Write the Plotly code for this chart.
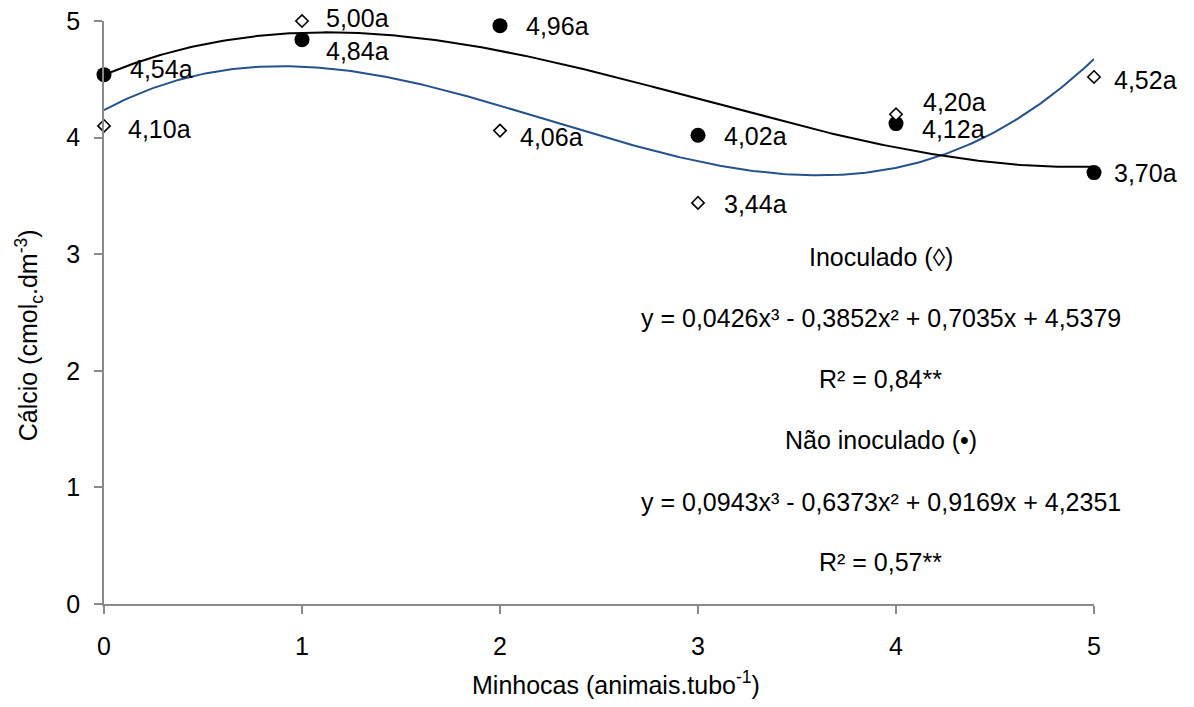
import numpy as np
import plotly.graph_objects as go

# Minhocas por tubo
doses = [0, 1, 2, 3, 4, 5]

# Cálcio (cmolc/dm3)
inoculado = [4.10, 5.00, 4.06, 3.44, 4.20, 4.52]
nao_inoculado = [4.54, 4.84, 4.96, 4.02, 4.12, 3.70]

# Coeficientes das regressões cúbicas (x³, x², x, constante)
coef_inoculado = [0.0426, -0.3852, 0.7035, 4.5379]
coef_nao_inoculado = [0.0943, -0.6373, 0.9169, 4.2351]
r2_inoculado = 0.84
r2_nao_inoculado = 0.57

letra = "a"

# Deslocamento dos rótulos (px) em relação ao ponto
shift_inoc = [(22, -3), (22, 3), (18, -6), (24, -1), (25, 12), (18, -3)]
shift_nao = [(24, 6), (22, -11), (24, 0), (24, -1), (24, -5), (18, 0)]

FONT = "Liberation Sans, Arial, sans-serif"
FS = 25
AXIS_GRAY = "#8a8a8a"
BLUE = "#24528c"
TXT = dict(family=FONT, size=FS, color="black")


def fmt(v, nd=2):
    return f"{v:.{nd}f}".replace(".", ",")


def eq_text(c):
    a, b, d, e = c
    s = f"y = {fmt(a, 4)}x³ "
    s += ("- " if b < 0 else "+ ") + f"{fmt(abs(b), 4)}x² "
    s += ("- " if d < 0 else "+ ") + f"{fmt(abs(d), 4)}x "
    s += ("- " if e < 0 else "+ ") + f"{fmt(abs(e), 4)}"
    return s


xs = np.linspace(0, 5, 300)

fig = go.Figure()

fig.add_trace(go.Scatter(
    x=xs, y=np.polyval(coef_nao_inoculado, xs), mode="lines",
    line=dict(color=BLUE, width=2), hoverinfo="skip", showlegend=False,
))
fig.add_trace(go.Scatter(
    x=xs, y=np.polyval(coef_inoculado, xs), mode="lines",
    line=dict(color="black", width=2), hoverinfo="skip", showlegend=False,
))
fig.add_trace(go.Scatter(
    x=doses, y=nao_inoculado, mode="markers",
    marker=dict(symbol="circle", size=15, color="black"),
    cliponaxis=False, showlegend=False,
))
fig.add_trace(go.Scatter(
    x=doses, y=inoculado, mode="markers",
    marker=dict(symbol="diamond", size=9.5, color="white",
                line=dict(color="black", width=1.6)),
    cliponaxis=False, showlegend=False,
))

annotations = []
for xv, yv, (dx, dy) in zip(doses, inoculado, shift_inoc):
    annotations.append(dict(x=xv, y=yv, text=fmt(yv) + letra, showarrow=False,
                            font=TXT, xanchor="left", yanchor="middle",
                            xshift=dx, yshift=dy))
for xv, yv, (dx, dy) in zip(doses, nao_inoculado, shift_nao):
    annotations.append(dict(x=xv, y=yv, text=fmt(yv) + letra, showarrow=False,
                            font=TXT, xanchor="left", yanchor="middle",
                            xshift=dx, yshift=dy))

# Bloco de equações
eq_lines = [
    "Inoculado (◊)",
    eq_text(coef_inoculado),
    f"R² = {fmt(r2_inoculado)}**",
    "Não inoculado (•)",
    eq_text(coef_nao_inoculado),
    f"R² = {fmt(r2_nao_inoculado)}**",
]
eq_y = [2.976, 2.45, 1.928, 1.405, 0.877, 0.362]
for t, yv in zip(eq_lines, eq_y):
    annotations.append(dict(x=3.924, y=yv, text=t, showarrow=False, font=TXT,
                            xanchor="center", yanchor="middle"))

# Títulos dos eixos
annotations.append(dict(xref="paper", yref="paper", x=-0.0757, y=0.461,
                        text="Cálcio (cmol<sub>c</sub>.dm<sup>-3</sup>)",
                        textangle=-90, showarrow=False, font=TXT,
                        xanchor="center", yanchor="middle"))
annotations.append(dict(xref="paper", yref="paper", x=0.517, y=-0.1355,
                        text="Minhocas (animais.tubo<sup>-1</sup>)",
                        showarrow=False, font=TXT,
                        xanchor="center", yanchor="middle"))

axis_common = dict(
    showline=True, linecolor=AXIS_GRAY, linewidth=1.5,
    ticks="outside", ticklen=8, tickcolor=AXIS_GRAY, tickwidth=1.5,
    showgrid=False, zeroline=False, tickfont=TXT,
    fixedrange=True, automargin=False,
)

fig.update_layout(
    width=1194, height=707,
    margin=dict(l=104, r=100, t=21, b=103, autoexpand=False),
    paper_bgcolor="white", plot_bgcolor="white",
    font=TXT,
    annotations=annotations,
    xaxis=dict(range=[0, 5], dtick=1, tick0=0, ticklabelstandoff=11, **axis_common),
    yaxis=dict(range=[0, 5], dtick=1, tick0=0, ticklabelstandoff=9, **axis_common),
)

fig.write_html("out.html")
